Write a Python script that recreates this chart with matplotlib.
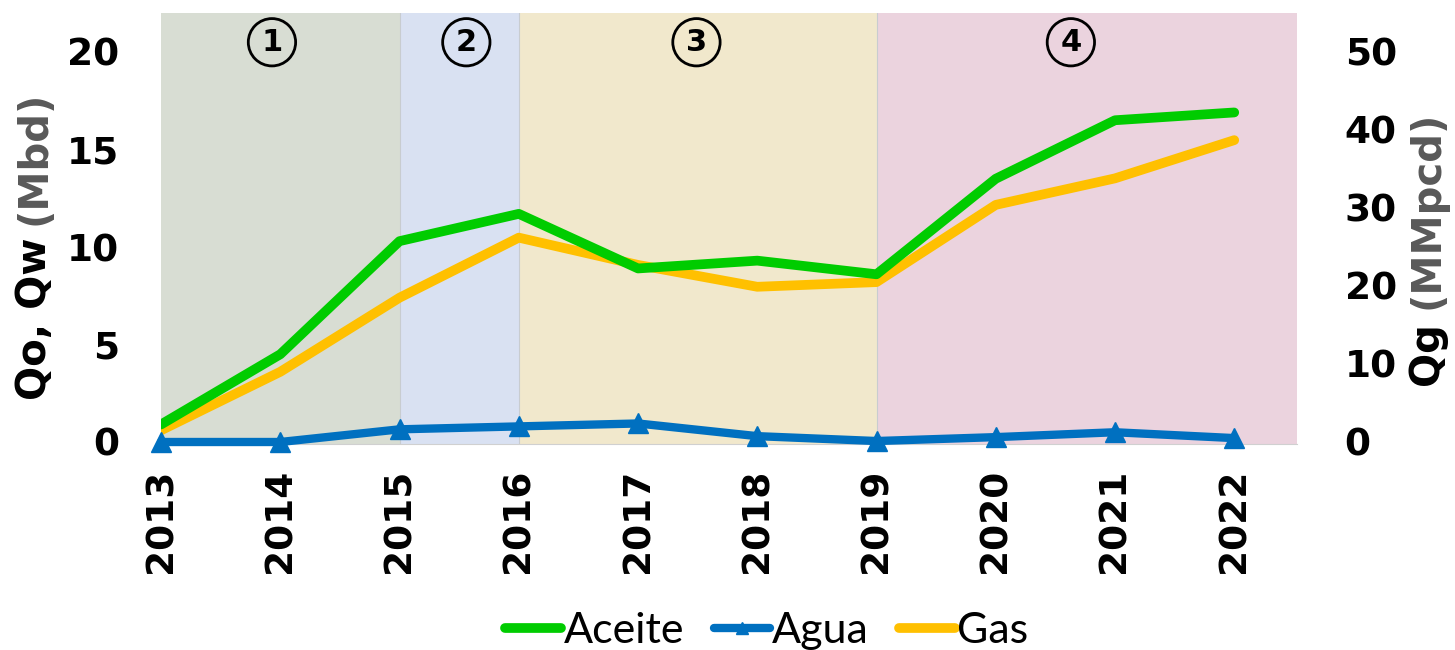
import numpy as np
import matplotlib.pyplot as plt

# datos
anios = ['2013', '2014', '2015', '2016', '2017', '2018', '2019', '2020', '2021', '2022']
aceite = [0.9, 4.5, 10.3, 11.7, 8.9, 9.3, 8.6, 13.5, 16.5, 16.9]
agua = [0.0, 0.0, 0.65, 0.8, 0.95, 0.3, 0.05, 0.25, 0.5, 0.2]
gas = [1.5, 9.0, 18.5, 26.2, 22.7, 19.9, 20.5, 30.4, 33.8, 38.7]

# etapas (indices de inicio/fin) y colores de fondo
etapas = ['1', '2', '3', '4']
limites = [0, 2, 3, 6, 9.53]
colores_etapa = ['#d8ddd3', '#d9e1f2', '#f1e8cc', '#ebd3de']
pos_etiqueta = [0.93, 2.56, 4.49, 7.63]

x = np.arange(len(anios))

fig = plt.figure(figsize=(14.55, 6.5), dpi=100)
ax2 = fig.add_axes([0.1107, 0.317, 0.781, 0.663])
ax1 = ax2.twinx()   # ax1 (izquierda) encima, ax2 (derecha) debajo
ax1.yaxis.tick_left()
ax2.yaxis.tick_right()

# fondo por etapas en el eje de abajo
for i in range(len(etapas)):
    ax2.axvspan(limites[i], limites[i + 1], color=colores_etapa[i], lw=0, zorder=0)
    if 0 < i:
        ax2.axvline(limites[i], color='#c8ccd0', lw=0.8, zorder=0.5)
    ax1.text(pos_etiqueta[i], 20.5, etapas[i], ha='center', va='center',
             fontsize=22, fontweight='bold', family='DejaVu Sans',
             bbox=dict(boxstyle='circle,pad=0.3', fc='none', ec='black', lw=2))

l3, = ax2.plot(x, gas, color='#ffc000', lw=7, solid_capstyle='round', zorder=3, label='Gas')
l1, = ax1.plot(x, aceite, color='#00cc00', lw=7, solid_capstyle='round', zorder=3, label='Aceite')
l2, = ax1.plot(x, agua, color='#0070c0', lw=6, marker='^', ms=14, zorder=4,
               clip_on=False, solid_capstyle='round', label='Agua')

ax1.set_xlim(0, 9.53)
ax1.set_ylim(-0.1, 22)
ax2.set_ylim(-0.25, 55)
ax1.set_yticks([0, 5, 10, 15, 20])
ax2.set_yticks([0, 10, 20, 30, 40, 50])
ax2.set_xticks(x)
ax2.set_xticklabels(anios, rotation=90, fontsize=26, fontweight='bold')
ax1.tick_params(axis='x', bottom=False, labelbottom=False)

for a in (ax1, ax2):
    for s in a.spines.values():
        s.set_visible(False)
    a.tick_params(length=0, labelsize=27)
    for lab in a.get_yticklabels():
        lab.set_fontweight('bold')
ax2.spines['bottom'].set_visible(True)
ax2.spines['bottom'].set_color('#d0d0d0')
ax2.tick_params(axis='x', pad=18)
ax1.tick_params(axis='y', pad=30)
ax2.tick_params(axis='y', pad=34)

# etiquetas de eje en dos colores
t1 = fig.text(0.024, 0.385, 'Qo, Qw', rotation=90, ha='center', va='bottom',
              fontsize=29, fontweight='bold')
ax1.annotate('(Mbd)', xy=(0.5, 1), xycoords=t1, xytext=(0, 9), textcoords='offset points',
             rotation=90, ha='center', va='bottom', fontsize=29, fontweight='bold',
             color='#595959', annotation_clip=False)
t2 = fig.text(0.981, 0.408, 'Qg', rotation=90, ha='center', va='bottom',
              fontsize=29, fontweight='bold')
ax1.annotate('(MMpcd)', xy=(0.5, 1), xycoords=t2, xytext=(0, 9), textcoords='offset points',
             rotation=90, ha='center', va='bottom', fontsize=29, fontweight='bold',
             color='#595959', annotation_clip=False)

fig.legend([l1, l2, l3], ['Aceite', 'Agua', 'Gas'], loc='lower center',
           bbox_to_anchor=(0.527, -0.06), ncol=3, frameon=False,
           prop={'family': 'Lato', 'size': 31},
           handlelength=1.3, handletextpad=0.05, columnspacing=0.7, markerscale=0.6)

fig.savefig('out.png', dpi=100)
